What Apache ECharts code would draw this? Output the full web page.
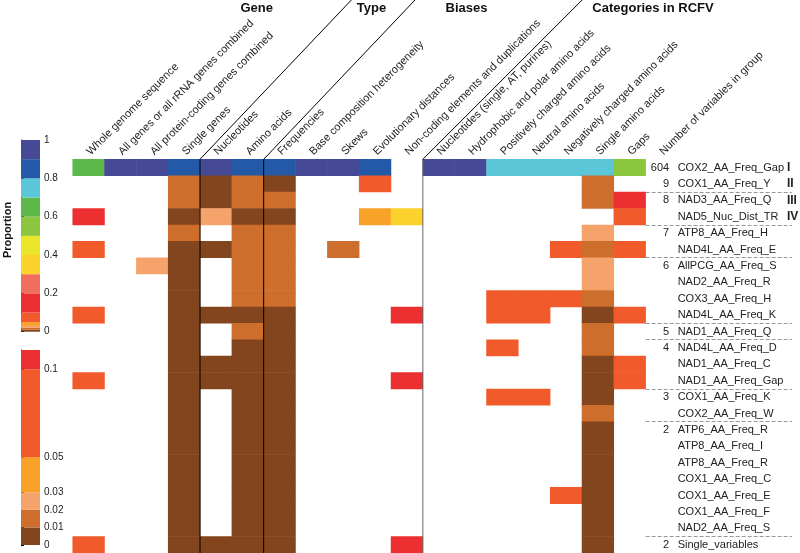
<!DOCTYPE html>
<html>
<head>
<meta charset="utf-8">
<script src="https://cdn.jsdelivr.net/npm/echarts@6/dist/echarts.min.js"></script>
<style>
  html, body { margin: 0; padding: 0; background: #fff; }
  #chart { width: 800px; height: 553px; }
</style>
</head>
<body>
<div id="chart"></div>
<script>
// column headers (last one only carries the group-size numbers)
const columns = [
  "Whole genome sequence",
  "All genes or all rRNA genes combined",
  "All protein-coding genes combined",
  "Single genes",
  "Nucleotides",
  "Amino acids",
  "Frequencies",
  "Base composition heterogeneity",
  "Skews",
  "Evolutionary distances",
  "Non-coding elements and duplications",
  "Nucleotides (single, AT, purines)",
  "Hydrophobic and polar amino acids",
  "Positively charged amino acids",
  "Neutral amino acids",
  "Negatively charged amino acids",
  "Single amino acids",
  "Gaps",
  "Number of variables in group"
];

const rows = [
  "COX2_AA_Freq_Gap", "COX1_AA_Freq_Y", "NAD3_AA_Freq_Q", "NAD5_Nuc_Dist_TR",
  "ATP8_AA_Freq_H", "NAD4L_AA_Freq_E", "AllPCG_AA_Freq_S", "NAD2_AA_Freq_R",
  "COX3_AA_Freq_H", "NAD4L_AA_Freq_K", "NAD1_AA_Freq_Q", "NAD4L_AA_Freq_D",
  "NAD1_AA_Freq_C", "NAD1_AA_Freq_Gap", "COX1_AA_Freq_K", "COX2_AA_Freq_W",
  "ATP6_AA_Freq_R", "ATP8_AA_Freq_I", "ATP8_AA_Freq_R", "COX1_AA_Freq_C",
  "COX1_AA_Freq_E", "COX1_AA_Freq_F", "NAD2_AA_Freq_S", "Single_variables"
];

const groupSizes = ["604", "9", "8", "", "7", "", "6", "", "", "", "5", "4",
  "", "", "3", "", "2", "", "", "", "", "", "", "2"];
const clusters = ["I", "II", "III", "IV", "", "", "", "", "", "", "", "",
  "", "", "", "", "", "", "", "", "", "", "", ""];
// first row of each group -> dashed separator above it
const groupStarts = [2, 4, 6, 10, 11, 14, 16, 23];

// proportion per row, one value per column (null = absent)
const _ = null;
const cellValues = [
  [0.65, 0.95, 0.95, 0.85, 0.95, 0.85, 0.85, 0.95, 0.95, 0.85, _, 0.95, 0.95, 0.75, 0.75, 0.75, 0.75, 0.55],
  [_, _, _, 0.015, 0.005, 0.015, 0.005, _, _, 0.07, _, _, _, _, _, _, 0.015, _],
  [_, _, _, 0.015, 0.005, 0.015, 0.015, _, _, _, _, _, _, _, _, _, 0.015, 0.15],
  [0.15, _, _, 0.005, 0.025, 0.005, 0.005, _, _, 0.04, 0.35, _, _, _, _, _, _, 0.07],
  [_, _, _, 0.015, _, 0.015, 0.015, _, _, _, _, _, _, _, _, _, 0.025, _],
  [0.07, _, _, 0.005, 0.005, 0.015, 0.015, _, 0.015, _, _, _, _, _, _, 0.07, 0.015, 0.07],
  [_, _, 0.025, 0.005, _, 0.015, 0.015, _, _, _, _, _, _, _, _, _, 0.025, _],
  [_, _, _, 0.005, _, 0.015, 0.015, _, _, _, _, _, _, _, _, _, 0.025, _],
  [_, _, _, 0.005, _, 0.015, 0.015, _, _, _, _, _, _, 0.07, 0.07, 0.07, 0.015, _],
  [0.07, _, _, 0.005, 0.005, 0.005, 0.005, _, _, _, 0.15, _, _, 0.07, 0.07, _, 0.005, 0.07],
  [_, _, _, 0.005, _, 0.015, 0.005, _, _, _, _, _, _, _, _, _, 0.015, _],
  [_, _, _, 0.005, _, 0.005, 0.005, _, _, _, _, _, _, 0.07, _, _, 0.015, _],
  [_, _, _, 0.005, 0.005, 0.005, 0.005, _, _, _, _, _, _, _, _, _, 0.005, 0.07],
  [0.07, _, _, 0.005, 0.005, 0.005, 0.005, _, _, _, 0.15, _, _, _, _, _, 0.005, 0.07],
  [_, _, _, 0.005, _, 0.005, 0.005, _, _, _, _, _, _, 0.07, 0.07, _, 0.005, _],
  [_, _, _, 0.005, _, 0.005, 0.005, _, _, _, _, _, _, _, _, _, 0.015, _],
  [_, _, _, 0.005, _, 0.005, 0.005, _, _, _, _, _, _, _, _, _, 0.005, _],
  [_, _, _, 0.005, _, 0.005, 0.005, _, _, _, _, _, _, _, _, _, 0.005, _],
  [_, _, _, 0.005, _, 0.005, 0.005, _, _, _, _, _, _, _, _, _, 0.005, _],
  [_, _, _, 0.005, _, 0.005, 0.005, _, _, _, _, _, _, _, _, _, 0.005, _],
  [_, _, _, 0.005, _, 0.005, 0.005, _, _, _, _, _, _, _, _, 0.07, 0.005, _],
  [_, _, _, 0.005, _, 0.005, 0.005, _, _, _, _, _, _, _, _, _, 0.005, _],
  [_, _, _, 0.005, _, 0.005, 0.005, _, _, _, _, _, _, _, _, _, 0.005, _],
  [0.07, _, _, 0.005, 0.005, 0.005, 0.005, _, _, _, 0.15, _, _, _, _, _, 0.005, _]
];

// colour bins of the proportion scale
const breaks = [0, 0.01, 0.02, 0.03, 0.05, 0.1, 0.2, 0.3, 0.4, 0.5, 0.6, 0.7, 0.8, 0.9, 1];
const binColors = ["#83451d", "#cd6e2c", "#f5a26b", "#f8a22a", "#f15a2b", "#ec3031", "#ef6e5c",
  "#fcd22c", "#ece62b", "#8cc63f", "#5cb849", "#5bc6d8", "#2359a6", "#454996"];
const zoomMax = 0.111;
const zoomTicks = [0, 0.01, 0.02, 0.03, 0.05, 0.1];

const heatData = [];
cellValues.forEach((row, y) => {
  row.forEach((v, x) => {
    if (v !== null) heatData.push([x, y, v]);
  });
});

const pieces = binColors.map((c, i) => ({ gte: breaks[i], lt: breaks[i + 1], color: c }));
pieces[pieces.length - 1] = { gte: 0.9, lte: 1, color: binColors[13] };

const fullLegend = binColors.map((c, i) => [breaks[i], breaks[i + 1], i]);
const zoomLegend = [];
for (let i = 0; i < 5; i++) zoomLegend.push([breaks[i], breaks[i + 1], i]);
zoomLegend.push([0.1, zoomMax, 5]);

const FONT = '"Liberation Sans", Arial, sans-serif';
const GRID_LEFT = 72.7, GRID_TOP = 159.3, COL_W = 31.83, ROW_H = 16.4;
const LABEL_W = 146.3; // right-hand label block (numbers, names, clusters)

function legendRect(params, api) {
  const p0 = api.coord([0, api.value(1)]);
  const p1 = api.coord([1, api.value(0)]);
  return {
    type: "rect",
    shape: { x: p0[0], y: p0[1], width: p1[0] - p0[0], height: p1[1] - p0[1] },
    style: { fill: binColors[api.value(2)] }
  };
}

// a category axis in the label block, used only for its labels
function labelAxis(extra) {
  return Object.assign({
    type: "category", gridIndex: 1, data: rows, inverse: true,
    axisLine: { show: false }, axisTick: { show: false }, splitLine: { show: false }
  }, extra);
}

let chart = echarts.init(document.getElementById("chart"));
let option = {
  animation: false,
  textStyle: { fontFamily: FONT },
  grid: [
    { left: GRID_LEFT, top: GRID_TOP, width: COL_W * columns.length, height: ROW_H * rows.length, outerBoundsMode: "none" },
    { left: GRID_LEFT + COL_W * 18, top: GRID_TOP, width: LABEL_W, height: ROW_H * rows.length, outerBoundsMode: "none" },
    { left: 21, top: 140, width: 19, height: 191.7, outerBoundsMode: "none" },
    { left: 21, top: 350, width: 19, height: 195, outerBoundsMode: "none" }
  ],
  xAxis: [
    {
      type: "category", gridIndex: 0, data: columns, position: "top",
      axisLine: { show: false }, axisTick: { show: false },
      axisLabel: { interval: 0, rotate: -45, fontSize: 11, color: "#222", margin: 6 }
    },
    { type: "value", gridIndex: 1, min: 0, max: 1, show: false },
    { type: "value", gridIndex: 2, min: 0, max: 1, show: false },
    { type: "value", gridIndex: 3, min: 0, max: 1, show: false }
  ],
  yAxis: [
    { type: "category", gridIndex: 0, data: rows, inverse: true, show: false },
    labelAxis({
      position: "left",
      axisLabel: { inside: true, margin: 32, interval: 0, align: "left", fontSize: 11, color: "#222" },
      splitLine: {
        show: true,
        interval: (index) => groupStarts.includes(index),
        lineStyle: { type: "dashed", color: "#999", width: 1 }
      }
    }),
    labelAxis({
      position: "left",
      axisLabel: {
        inside: true, margin: 23.5, interval: 0, align: "right", fontSize: 11, color: "#222",
        formatter: (value, index) => groupSizes[index]
      }
    }),
    labelAxis({
      position: "right",
      axisLabel: {
        margin: -5, interval: 0, align: "left", fontSize: 12, fontWeight: "bold", color: "#222",
        formatter: (value, index) => clusters[index]
      }
    }),
    {
      type: "value", gridIndex: 2, min: 0, max: 1, interval: 0.2, position: "right",
      axisLine: { show: true, lineStyle: { color: "#000" } },
      axisTick: { show: true, length: 3, lineStyle: { color: "#000" } },
      axisLabel: { fontSize: 10, color: "#222", margin: 4 },
      splitLine: { show: false }
    },
    {
      type: "value", gridIndex: 3, min: 0, max: zoomMax, position: "right",
      axisLine: { show: true, lineStyle: { color: "#000" } },
      axisTick: { show: true, length: 3, customValues: zoomTicks, lineStyle: { color: "#000" } },
      axisLabel: { fontSize: 10, color: "#222", margin: 4, customValues: zoomTicks },
      splitLine: { show: false }
    }
  ],
  visualMap: {
    type: "piecewise", show: false, seriesIndex: 0, dimension: 2, pieces: pieces
  },
  series: [
    {
      type: "heatmap", xAxisIndex: 0, yAxisIndex: 0, data: heatData,
      itemStyle: { borderWidth: 0 }, emphasis: { disabled: true }
    },
    { type: "custom", xAxisIndex: 2, yAxisIndex: 4, data: fullLegend, renderItem: legendRect },
    { type: "custom", xAxisIndex: 3, yAxisIndex: 5, data: zoomLegend, renderItem: legendRect }
  ]
};
chart.setOption(option);

// group dividers: vertical through the map, slanted through the header
const bottomY = GRID_TOP + ROW_H * rows.length;
const dividers = [
  { col: 4, color: "#000", slant: 0.95 },
  { col: 6, color: "#000", slant: 0.95 },
  { col: 11, color: "#666", slant: 1.0 }
];
const headers = [
  { text: "Gene", x: 256.7 },
  { text: "Type", x: 371.5 },
  { text: "Biases", x: 466.5 },
  { text: "Categories in RCFV", x: 653 }
];
let graphics = [];
dividers.forEach((d) => {
  const x = (chart.convertToPixel({ xAxisIndex: 0 }, d.col - 1) + chart.convertToPixel({ xAxisIndex: 0 }, d.col)) / 2;
  graphics.push({
    type: "line", z: 100, shape: { x1: x, y1: GRID_TOP, x2: x, y2: bottomY },
    style: { stroke: d.color, lineWidth: 1 }
  });
  graphics.push({
    type: "line", z: 100, shape: { x1: x, y1: GRID_TOP, x2: x + GRID_TOP * d.slant, y2: 0 },
    style: { stroke: "#000", lineWidth: 1 }
  });
});
headers.forEach((h) => {
  graphics.push({
    type: "text", x: h.x, y: 8,
    style: { text: h.text, align: "center", verticalAlign: "middle", font: "bold 13px " + FONT, fill: "#111" }
  });
});
graphics.push({
  type: "text", x: 8, y: 230, rotation: Math.PI / 2,
  style: { text: "Proportion", align: "center", verticalAlign: "middle", font: "bold 11px " + FONT, fill: "#111" }
});
chart.setOption({ graphic: graphics });
</script>
</body>
</html>
